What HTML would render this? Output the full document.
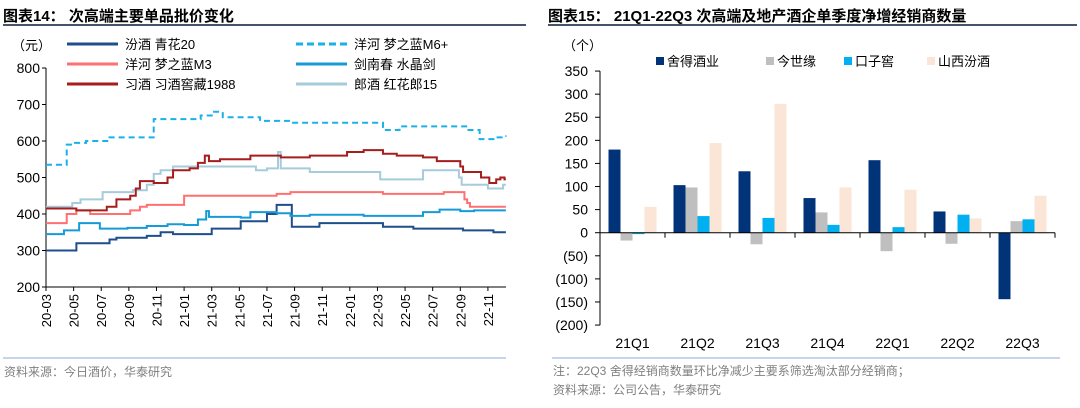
<!DOCTYPE html>
<html><head><meta charset="utf-8">
<style>
body{margin:0;background:#fff;width:1080px;height:408px;overflow:hidden;font-family:"Liberation Sans","Noto Sans CJK SC",sans-serif;}
svg{position:absolute;left:0;top:0}
</style></head>
<body>
<svg id="s" width="1080" height="408" xmlns="http://www.w3.org/2000/svg">
<text x="3" y="21" font-size="15" font-weight="bold" fill="#000">图表14：  次高端主要单品批价变化</text>
<line x1="3" y1="25" x2="526" y2="25" stroke="#44546a" stroke-width="2"/>
<text x="548" y="21" font-size="15" font-weight="bold" fill="#000">图表15：  21Q1-22Q3 次高端及地产酒企单季度净增经销商数量</text>
<line x1="548" y1="25" x2="1077" y2="25" stroke="#44546a" stroke-width="2"/>
<g id="L"></g><g id="R"></g>
<line x1="3" y1="358" x2="506" y2="358" stroke="#8ea9db" stroke-width="1"/>
<text x="4" y="376" font-size="12" fill="#7f7f7f">资料来源：今日酒价，华泰研究</text>
<line x1="552" y1="358" x2="1060" y2="358" stroke="#8ea9db" stroke-width="1"/>
<text x="553" y="375" font-size="12" fill="#7f7f7f">注：22Q3 舍得经销商数量环比净减少主要系筛选淘汰部分经销商；</text>
<text x="553" y="394" font-size="12" fill="#7f7f7f">资料来源：公司公告，华泰研究</text>
</svg>
<script>
const NS="http://www.w3.org/2000/svg";
function mk(p,t,a){const e=document.createElementNS(NS,t);for(const k in a)e.setAttribute(k,a[k]);p.appendChild(e);return e;}
// ---------- Left chart data ----------
const monthLabels=["20-03","20-05","20-07","20-09","20-11","21-01","21-03","21-05","21-07","21-09","21-11","22-01","22-03","22-05","22-07","22-09","22-11"];
const yTicksL=[200,300,400,500,600,700,800];
const seriesNames=["汾酒 青花20","洋河 梦之蓝M6+","洋河 梦之蓝M3","剑南春 水晶剑","习酒 习酒窖藏1988","郎酒 红花郎15"];
// month index (0 = 2020-03) breakpoints and step values
const fenM=[0,2.2,4.6,5.1,7.3,8.3,9.2,11,12,14.1,16,16.7,17.8,19.8,23,24.4,26.6,30.2,32.4,33.3];
const fenV=[300,320,330,335,340,350,345,345,360,380,400,425,365,375,375,365,360,355,350,350];
const m6M=[0,1.5,2.1,2.9,4.6,7.8,11.2,12,12.8,15.5,17.7,24.4,25.6,30.5,31.4,32.6,33.3];
const m6V=[535,590,595,600,610,660,670,680,665,655,650,630,640,630,605,610,615];
const m3M=[0,1.5,2.2,3.2,6.1,6.8,7.3,10,16.7,17.7,24.4,28.8,30.3,30.5,30.7,33.3];
const m3V=[375,400,410,400,410,420,425,450,455,460,455,460,440,430,420,420];
const jnM=[0,1.3,2.4,3.9,5.9,7.3,8.8,10,11,11.6,11.8,14.1,14.8,16.7,17.7,19.1,23,27.3,28.5,30,31,33.3];
const jnV=[345,355,375,360,362,367,372,370,385,408,392,390,405,402,395,398,395,405,412,408,410,410];
const xjM=[0,2.2,4.4,5.1,6.1,6.5,6.8,7.8,8.8,9.2,10.4,11,11.5,11.8,12.6,14.8,17,19.1,21.8,23,24.4,25.4,27.3,28.3,30,30.2,31.5,32.1,32.6,32.9,33.2,33.3];
const xjV=[415,410,420,440,450,470,490,485,500,520,525,540,560,545,550,560,555,560,570,575,565,560,555,545,530,515,500,485,495,500,495,495];
const lgM=[0,1.9,2.5,4.1,6.3,7.3,7.8,8.3,9.2,15.2,16,16.8,17,19.1,24.2,27.3,29.9,30.1,32,33.1,33.3];
const lgV=[420,430,440,460,465,480,510,520,530,520,525,570,525,515,495,520,500,480,470,480,480];
const seriesM=[fenM,m6M,m3M,jnM,xjM,lgM];
const seriesV=[fenV,m6V,m3V,jnV,xjV,lgV];
const colors=["#1f4e8c","#1ab0e8","#ff7070","#169bd8","#a51d1d","#a6cbdb"];
const X0=46,PM=13.81; const xL=m=>X0+m*PM;
const yL=v=>287-(v-200)*(219/600);
const L=document.getElementById('L');
yTicksL.forEach(v=>{const t=mk(L,'text',{x:40,y:yL(v)+5,'font-size':14,'text-anchor':'end',fill:'#000'});t.textContent=v;


const k=mk(L,'line',{x1:42,x2:46,y1:yL(v),y2:yL(v),stroke:'#000'});

});
const ax=mk(L,'line',{x1:46,x2:46,y1:yL(800),y2:yL(200),stroke:'#000'});


const axx=mk(L,'line',{x1:46,x2:506,y1:yL(200),y2:yL(200),stroke:'#000'});


monthLabels.forEach((s,i)=>{const x=xL(i*2);
const k=mk(L,'line',{x1:x,x2:x,y1:287,y2:291,stroke:'#000'});


const t=mk(L,'text',{x:0,y:0,'font-size':13,'text-anchor':'end',fill:'#000',transform:`translate(${x+5},294) rotate(-90)`});t.textContent=s;

});
const un=mk(L,'text',{x:12,y:50,'font-size':13,fill:'#000'});un.textContent='（元）';


const order=[1,5,2,0,4,3]; // draw order
order.forEach(i=>{const M=seriesM[i],V=seriesV[i];let d=`M${xL(M[0])},${yL(V[0])}`;
for(let j=1;j<M.length;j++){d+=`H${xL(M[j])}V${yL(V[j])}`;}
const p=mk(L,'path',{d:d,fill:'none',stroke:colors[i],'stroke-width':2});
if(i===1)p.setAttribute('stroke-dasharray','6,4');

});
const legPos=[[67,44],[296,44],[67,64],[296,64],[67,84],[296,84]];
seriesNames.forEach((n,i)=>{const [x,y]=legPos[i];
const g=mk(L,'g',{});


const l=mk(g,'line',{x1:x,x2:x+51,y1:y,y2:y,stroke:colors[i],'stroke-width':3});if(i===1)l.setAttribute('stroke-dasharray','7,4');
const t=mk(g,'text',{x:x+58,y:y+5,'font-size':13,fill:'#000'});t.textContent=n;});
// ---------- Right chart data ----------
const quarters=["21Q1","21Q2","21Q3","21Q4","22Q1","22Q2","22Q3"];
const barNames=["舍得酒业","今世缘","口子窖","山西汾酒"];
const sheDe=[180,103,133,75,157,46,-144];
const jinShiYuan=[-17,98,-25,44,-40,-24,25];
const kouZiJiao=[-3,36,32,17,12,39,29];
const fenJiu=[56,194,279,98,93,31,80];
const yTicksR=[350,300,250,200,150,100,50,0,-50,-100,-150,-200];
const barVals=[sheDe,jinShiYuan,kouZiJiao,fenJiu];
const barCols=["#003378","#bfbfbf","#00b0f0","#fbe5d6"];
const R=document.getElementById('R');
const RX0=600,RX1=1055,GW=(RX1-RX0)/quarters.length,BW=12;
const yR=v=>232.7-v*(254/550);
yTicksR.forEach(v=>{const t=mk(R,'text',{x:588,y:yR(v)+5,'font-size':14,'text-anchor':'end',fill:'#000'});t.textContent=v<0?`(${-v})`:v;


const k=mk(R,'line',{x1:595,x2:600,y1:yR(v),y2:yR(v),stroke:'#000'});

});
const ru=mk(R,'text',{x:563,y:50,'font-size':13,fill:'#000'});ru.textContent='（个）';


quarters.forEach((q,i)=>{const gx=RX0+i*GW;
barVals.forEach((arr,s)=>{const v=arr[i];const x=gx+GW/2-2*BW+s*BW;
const r=mk(R,'rect',{x:x,y:Math.min(yR(v),yR(0)),width:BW,height:Math.abs(yR(v)-yR(0)),fill:barCols[s]});

});
const t=mk(R,'text',{x:gx+GW/2,y:348,'font-size':14,'text-anchor':'middle',fill:'#000'});t.textContent=q;


const k=mk(R,'line',{x1:gx+GW,x2:gx+GW,y1:yR(0),y2:yR(0)+5,stroke:'#000'});

});
const ra=mk(R,'line',{x1:600,x2:600,y1:yR(350),y2:yR(-200),stroke:'#000'});


const rz=mk(R,'line',{x1:600,x2:RX1,y1:yR(0),y2:yR(0),stroke:'#000'});


const rlx=[656,766,844,927];
barNames.forEach((n,i)=>{const g=mk(R,'g',{});


mk(g,'rect',{x:rlx[i],y:57,width:8,height:8,fill:barCols[i]});
const t=mk(g,'text',{x:rlx[i]+11,y:66,'font-size':13,fill:'#000'});t.textContent=n;});
</script>
</body></html>
